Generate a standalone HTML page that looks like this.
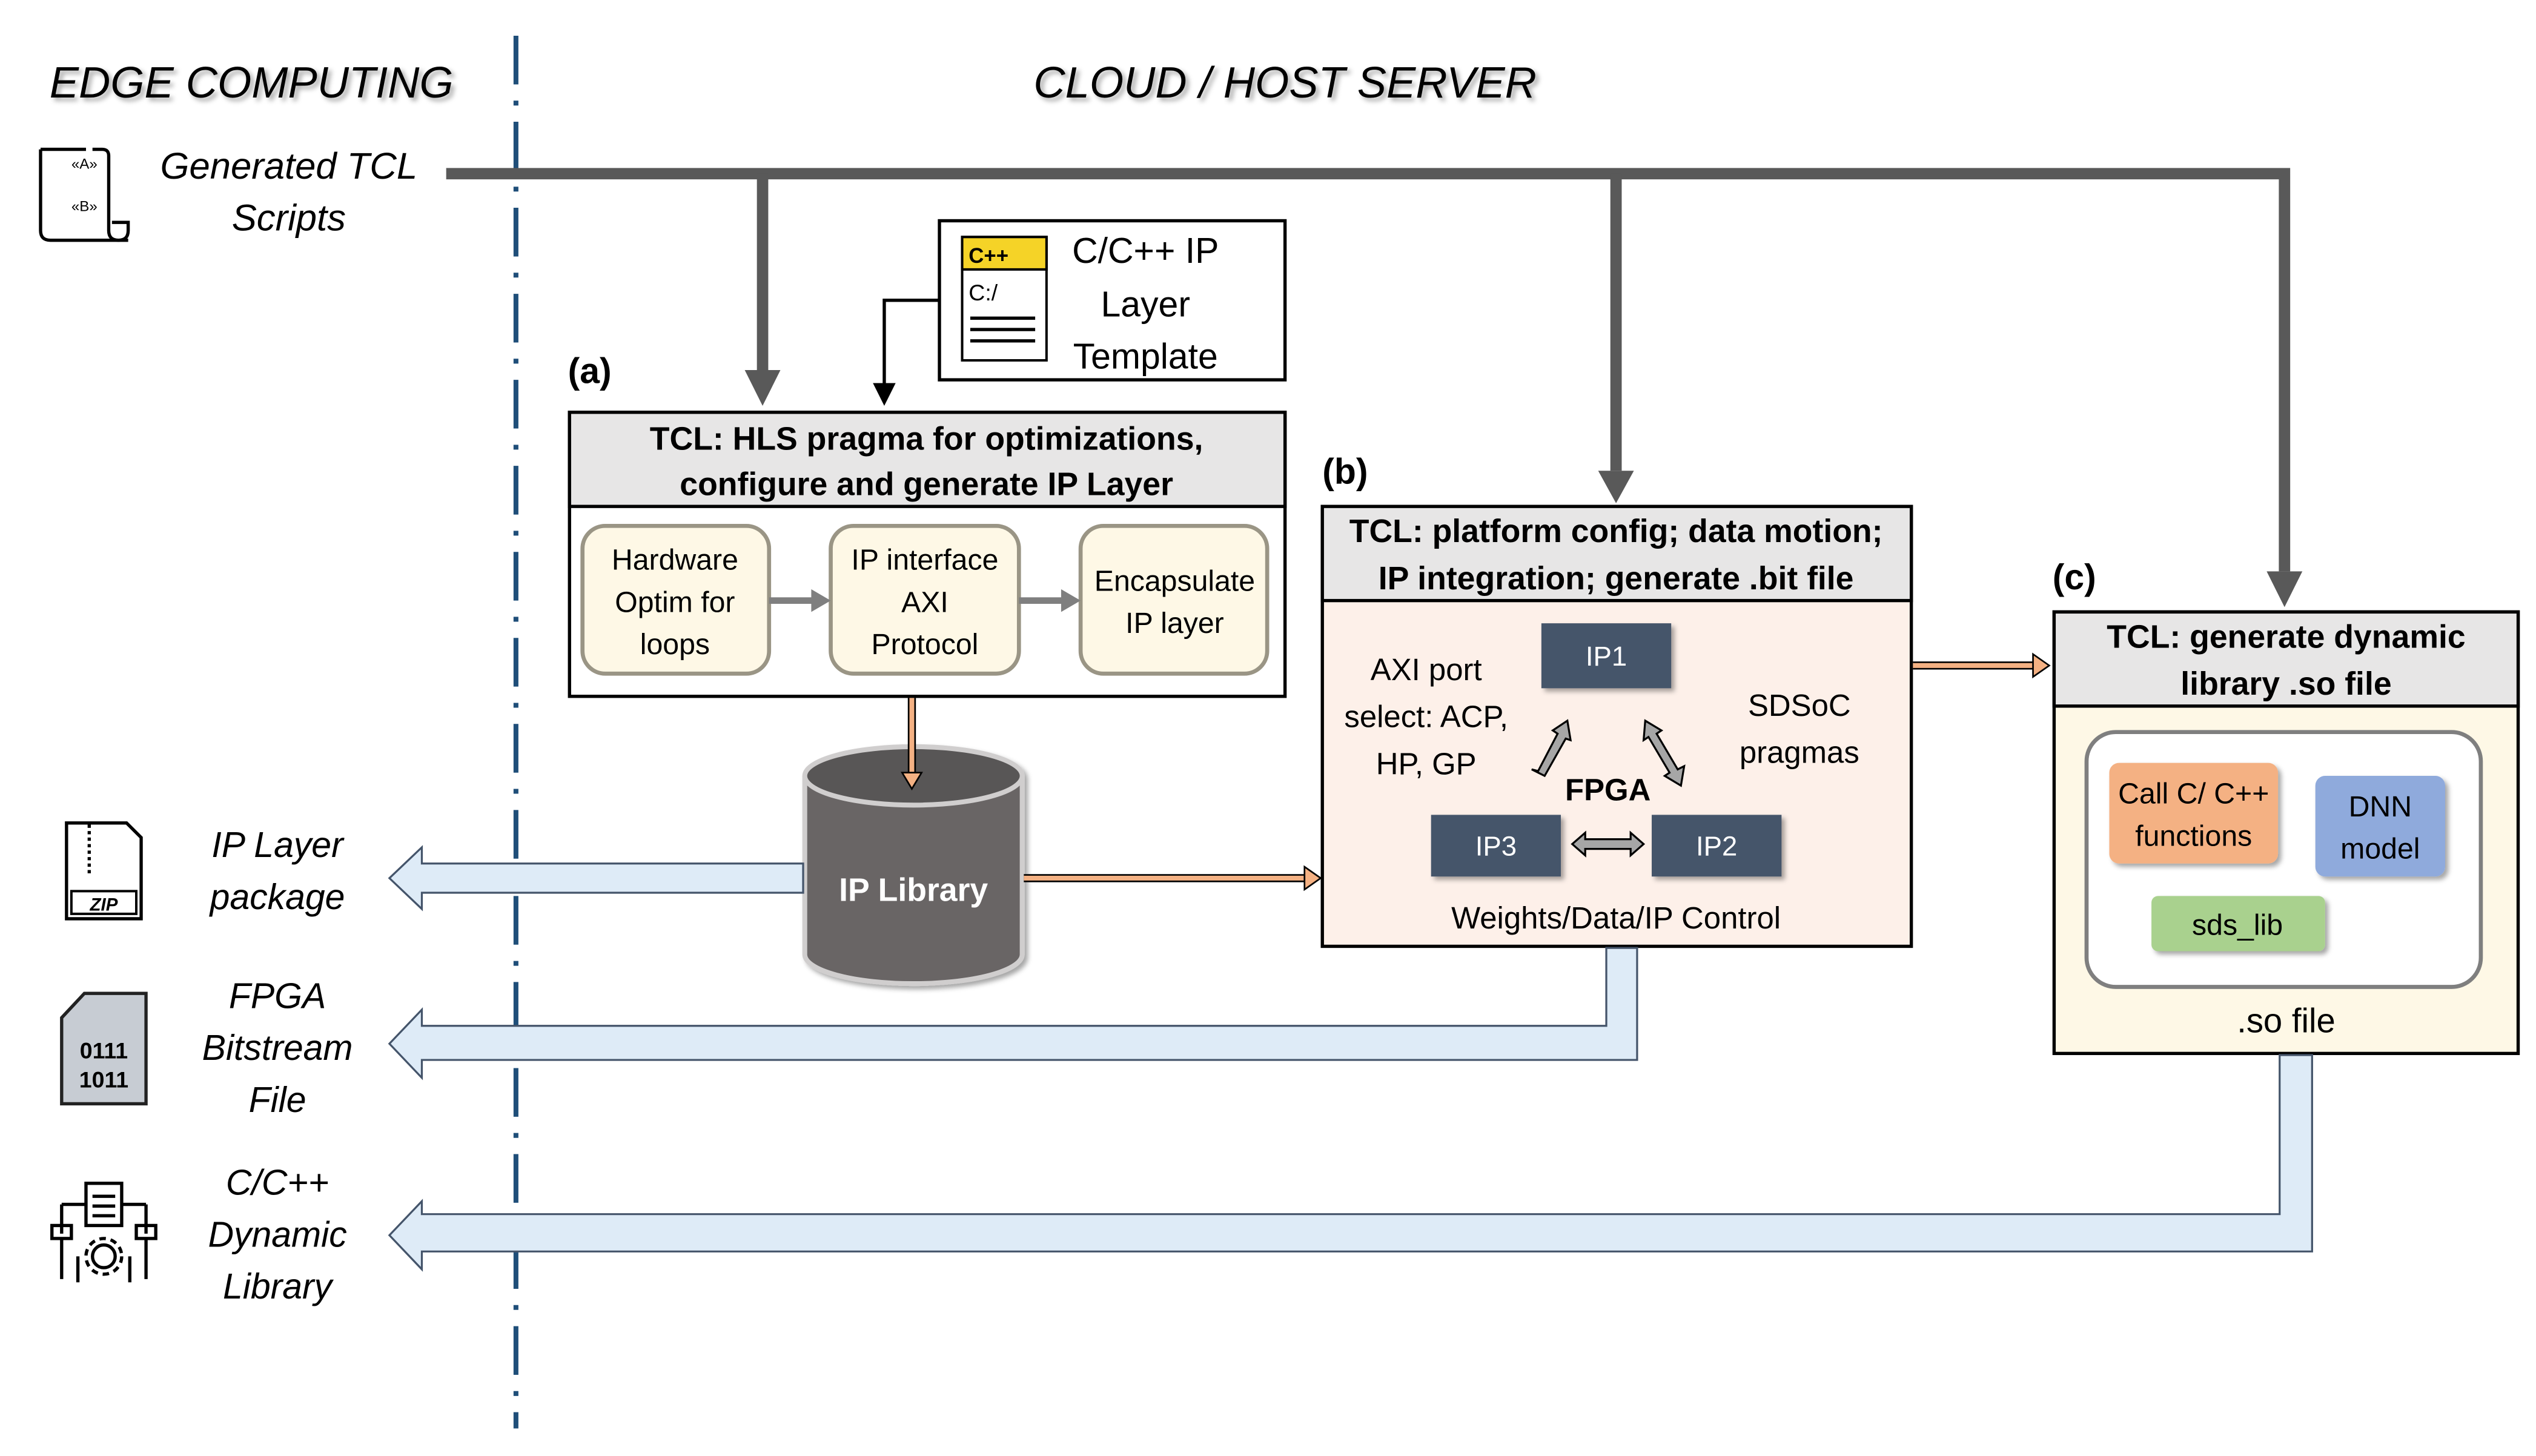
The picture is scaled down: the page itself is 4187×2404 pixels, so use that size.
<!DOCTYPE html>
<html><head><meta charset="utf-8"><style>
html,body{margin:0;padding:0;background:#fff;}
svg{display:block;}
text{font-family:"Liberation Sans",sans-serif;}
</style></head><body>
<svg width="4187" height="2404" viewBox="0 0 1563 897" preserveAspectRatio="none" xmlns="http://www.w3.org/2000/svg">
<defs>
<marker id="ag" markerWidth="4" markerHeight="4" refX="2" refY="2" orient="auto" markerUnits="strokeWidth"><path d="M0,0 L4,2 L0,4 z" fill="#595959"/></marker>
<filter id="sh"><feDropShadow dx="2" dy="2" stdDeviation="1.5" flood-color="#000" flood-opacity="0.35"/></filter>
</defs>
<rect width="1563" height="897" fill="#fff"/>
<!-- divider -->
<line x1="318" y1="22" x2="318" y2="880" stroke="#1f4e79" stroke-width="3" stroke-dasharray="30,10,3,10"/>
<text x="155" y="60" font-size="27" font-style="italic" text-anchor="middle" fill="#000" filter="url(#sh)">EDGE COMPUTING</text>
<text x="792" y="60" font-size="27" font-style="italic" text-anchor="middle" fill="#000" filter="url(#sh)">CLOUD / HOST SERVER</text>
<!-- script icon -->
<g fill="none" stroke="#000" stroke-width="2">
<path d="M25,92 v50 q0,6 6,6 h48"/><path d="M25,92 h28 M57,92 h6 q4,0 4,4 v46 q0,6 6,6 q6,0 6,-6 v-5 h-10"/>
</g>
<text x="44" y="104" font-size="9" fill="#000">«A»</text><text x="44" y="130" font-size="9" fill="#000">«B»</text>
<text x="178" y="110" font-size="23" font-style="italic" text-anchor="middle">Generated TCL</text>
<text x="178" y="142" font-size="23" font-style="italic" text-anchor="middle">Scripts</text>
<!-- gray bus -->
<g stroke="#595959" stroke-width="7" fill="none">
<path d="M275,107 H1408 V352"/>
<path d="M470,107 V228"/>
<path d="M996,107 V290"/>
</g>
<path d="M459,228 L481,228 L470,250 z" fill="#595959"/>
<path d="M985,290 L1007,290 L996,310 z" fill="#595959"/>
<path d="M1397,352 L1419,352 L1408,374 z" fill="#595959"/>
<!-- template box -->
<rect x="579" y="136" width="213" height="98" fill="#fff" stroke="#000" stroke-width="2"/>
<rect x="593" y="146" width="52" height="76" fill="#fff" stroke="#000" stroke-width="1.5"/>
<rect x="593" y="146" width="52" height="20" fill="#f5d327" stroke="#000" stroke-width="1.5"/>
<text x="597" y="162" font-size="13" font-weight="bold">C++</text>
<text x="597" y="185" font-size="14">C:/</text>
<g stroke="#000" stroke-width="2"><line x1="598" y1="196" x2="638" y2="196"/><line x1="598" y1="203" x2="638" y2="203"/><line x1="598" y1="210" x2="638" y2="210"/></g>
<text x="706" y="162" font-size="22" text-anchor="middle">C/C++ IP</text>
<text x="706" y="195" font-size="22" text-anchor="middle">Layer</text>
<text x="706" y="227" font-size="22" text-anchor="middle">Template</text>
<path d="M579,185 H545 V238" stroke="#000" stroke-width="2" fill="none"/>
<path d="M538,236 L552,236 L545,250 z" fill="#000"/>
<!-- (a) -->
<text x="350" y="236" font-size="22" font-weight="bold">(a)</text>
<rect x="351" y="254" width="441" height="175" fill="#fff" stroke="#000" stroke-width="2"/>
<rect x="351" y="254" width="441" height="58" fill="#e7e6e6" stroke="#000" stroke-width="2"/>
<text x="571" y="277" font-size="20" font-weight="bold" text-anchor="middle">TCL: HLS pragma for optimizations,</text>
<text x="571" y="305" font-size="20" font-weight="bold" text-anchor="middle">configure and generate IP Layer</text>
<g fill="#fef8e6" stroke="#9a9585" stroke-width="2.5">
<rect x="359" y="324" width="115" height="91" rx="14"/>
<rect x="512" y="324" width="116" height="91" rx="14"/>
<rect x="666" y="324" width="115" height="91" rx="14"/>
</g>
<g font-size="18" text-anchor="middle">
<text x="416" y="351">Hardware</text><text x="416" y="377">Optim for</text><text x="416" y="403">loops</text>
<text x="570" y="351">IP interface</text><text x="570" y="377">AXI</text><text x="570" y="403">Protocol</text>
<text x="724" y="364">Encapsulate</text><text x="724" y="390">IP layer</text>
</g>
<g stroke="#7f7f7f" stroke-width="4"><line x1="474" y1="370" x2="502" y2="370"/><line x1="628" y1="370" x2="656" y2="370"/></g>
<path d="M500,363 L512,370 L500,377 z" fill="#7f7f7f"/><path d="M654,363 L666,370 L654,377 z" fill="#7f7f7f"/>
<!-- IP library cylinder -->
<g filter="url(#sh)">
<path d="M496,478 V588 A67,18 0 0 0 630,588 V478" fill="#696565" stroke="#d0cece" stroke-width="3"/>
<ellipse cx="563" cy="478" rx="67" ry="18" fill="#595656" stroke="#d0cece" stroke-width="3"/>
</g>
<text x="563" y="555" font-size="20" font-weight="bold" fill="#fff" text-anchor="middle">IP Library</text>
<line x1="562" y1="430" x2="562" y2="478" stroke="#000" stroke-width="5"/>
<line x1="562" y1="430" x2="562" y2="478" stroke="#f4b183" stroke-width="3"/>
<path d="M556,476 L568,476 L562,486 z" fill="#f4b183" stroke="#000" stroke-width="1"/>
<line x1="631" y1="541" x2="806" y2="541" stroke="#000" stroke-width="5"/>
<line x1="631" y1="541" x2="806" y2="541" stroke="#f4b183" stroke-width="3"/>
<path d="M804,534 L814,541 L804,548 z" fill="#f4b183" stroke="#000" stroke-width="1"/>
<!-- (b) -->
<text x="815" y="298" font-size="22" font-weight="bold">(b)</text>
<rect x="815" y="312" width="363" height="271" fill="#fdf0e9" stroke="#000" stroke-width="2"/>
<rect x="815" y="312" width="363" height="58" fill="#e7e6e6" stroke="#000" stroke-width="2"/>
<text x="996" y="334" font-size="20" font-weight="bold" text-anchor="middle">TCL: platform config; data motion;</text>
<text x="996" y="363" font-size="20" font-weight="bold" text-anchor="middle">IP integration; generate .bit file</text>
<g font-size="19" text-anchor="middle">
<text x="879" y="419">AXI port</text><text x="879" y="448">select: ACP,</text><text x="879" y="477">HP, GP</text>
<text x="1109" y="441">SDSoC</text><text x="1109" y="470">pragmas</text>
<text x="996" y="572">Weights/Data/IP Control</text>
</g>
<g fill="#44546a" filter="url(#sh)">
<rect x="950" y="384" width="80" height="40"/>
<rect x="882" y="502" width="80" height="38"/>
<rect x="1018" y="502" width="80" height="38"/>
</g>
<g fill="#fff" font-size="17" text-anchor="middle">
<text x="990" y="410">IP1</text><text x="922" y="527">IP3</text><text x="1058" y="527">IP2</text>
</g>
<text x="991" y="493" font-size="19" font-weight="bold" text-anchor="middle">FPGA</text>
<g fill="#a6a6a6" stroke="#000" stroke-width="1.2">
<path d="M969,520 L977,513 V517 H1005 V513 L1013,520 L1005,527 V523 H977 V527 z"/>
<path d="M966,444 L968,456 L965,455 L952,478 L944,474 L948,475 L960,452 L957,450 z" transform="translate(0,0)"/>
<path d="M1014,444 L1024,450 L1021,452 L1034,474 L1038,472 L1036,484 L1026,478 L1029,476 L1016,454 L1013,456 z"/>
</g>
<!-- (b) to (c) orange -->
<line x1="1179" y1="410" x2="1255" y2="410" stroke="#000" stroke-width="5"/>
<line x1="1179" y1="410" x2="1255" y2="410" stroke="#f4b183" stroke-width="3"/>
<path d="M1253,403 L1263,410 L1253,417 z" fill="#f4b183" stroke="#000" stroke-width="1"/>
<!-- (c) -->
<text x="1265" y="363" font-size="22" font-weight="bold">(c)</text>
<rect x="1266" y="377" width="286" height="272" fill="#fef8e6" stroke="#000" stroke-width="2"/>
<rect x="1266" y="377" width="286" height="58" fill="#e7e6e6" stroke="#000" stroke-width="2"/>
<text x="1409" y="399" font-size="20" font-weight="bold" text-anchor="middle">TCL: generate dynamic</text>
<text x="1409" y="428" font-size="20" font-weight="bold" text-anchor="middle">library .so file</text>
<rect x="1286" y="451" width="243" height="157" rx="18" fill="#fff" stroke="#7f7f7f" stroke-width="2.5"/>
<g filter="url(#sh)">
<rect x="1300" y="470" width="104" height="62" rx="6" fill="#f4b183"/>
<rect x="1427" y="478" width="80" height="62" rx="6" fill="#8faadc"/>
<rect x="1326" y="552" width="107" height="34" rx="4" fill="#a9d18e"/>
</g>
<g font-size="18" text-anchor="middle">
<text x="1352" y="495">Call C/ C++</text><text x="1352" y="521">functions</text>
<text x="1467" y="503">DNN</text><text x="1467" y="529">model</text>
<text x="1379" y="576">sds_lib</text>
</g>
<text x="1409" y="636" font-size="21" text-anchor="middle">.so file</text>
<!-- blue return arrows -->
<g fill="#deebf7" stroke="#44546a" stroke-width="1.2">
<path d="M495,532 H260 V522 L240,541 L260,560 V550 H495 z"/>
<path d="M990,584 V632 H260 V622 L240,643 L260,664 V653 H1009 V584 z"/>
<path d="M1405,650 V748 H260 V740 L240,761 L260,782 V771 H1425 V650 z"/>
</g>
<!-- left labels -->
<g font-size="22" font-style="italic" text-anchor="middle">
<text x="171" y="528">IP Layer</text><text x="171" y="560">package</text>
<text x="171" y="621">FPGA</text><text x="171" y="653">Bitstream</text><text x="171" y="685">File</text>
<text x="171" y="736">C/C++</text><text x="171" y="768">Dynamic</text><text x="171" y="800">Library</text>
</g>
<!-- zip icon -->
<path d="M41,507 H78 L87,516 V566 H41 z" fill="#fff" stroke="#000" stroke-width="2"/>
<line x1="55" y1="508" x2="55" y2="540" stroke="#000" stroke-width="2" stroke-dasharray="2,2"/>
<rect x="44" y="549" width="40" height="14" fill="#fff" stroke="#000" stroke-width="1.5"/>
<text x="64" y="561" font-size="11" font-weight="bold" font-style="italic" text-anchor="middle">ZIP</text>
<!-- bitstream icon -->
<path d="M38,627 L52,612 H90 V680 H38 z" fill="#c7ccd3" stroke="#222" stroke-width="2"/>
<text x="64" y="652" font-size="14" font-weight="bold" text-anchor="middle">0111</text>
<text x="64" y="670" font-size="14" font-weight="bold" text-anchor="middle">1011</text>
<!-- library icon -->
<g fill="none" stroke="#000" stroke-width="2">
<rect x="53" y="729" width="22" height="26"/>
<line x1="57" y1="737" x2="71" y2="737"/><line x1="57" y1="743" x2="71" y2="743"/><line x1="57" y1="749" x2="71" y2="749"/>
<circle cx="64" cy="774" r="7"/><circle cx="64" cy="774" r="11" stroke-dasharray="4,3"/>
<path d="M38,742 H53 M75,742 H90 M38,742 V760 M90,742 V760"/>
<rect x="32" y="755" width="12" height="8"/><rect x="84" y="755" width="12" height="8"/>
<path d="M38,763 V788 M90,763 V788 M48,774 V790 M80,774 V790"/>
</g>
</svg>
</body></html>
